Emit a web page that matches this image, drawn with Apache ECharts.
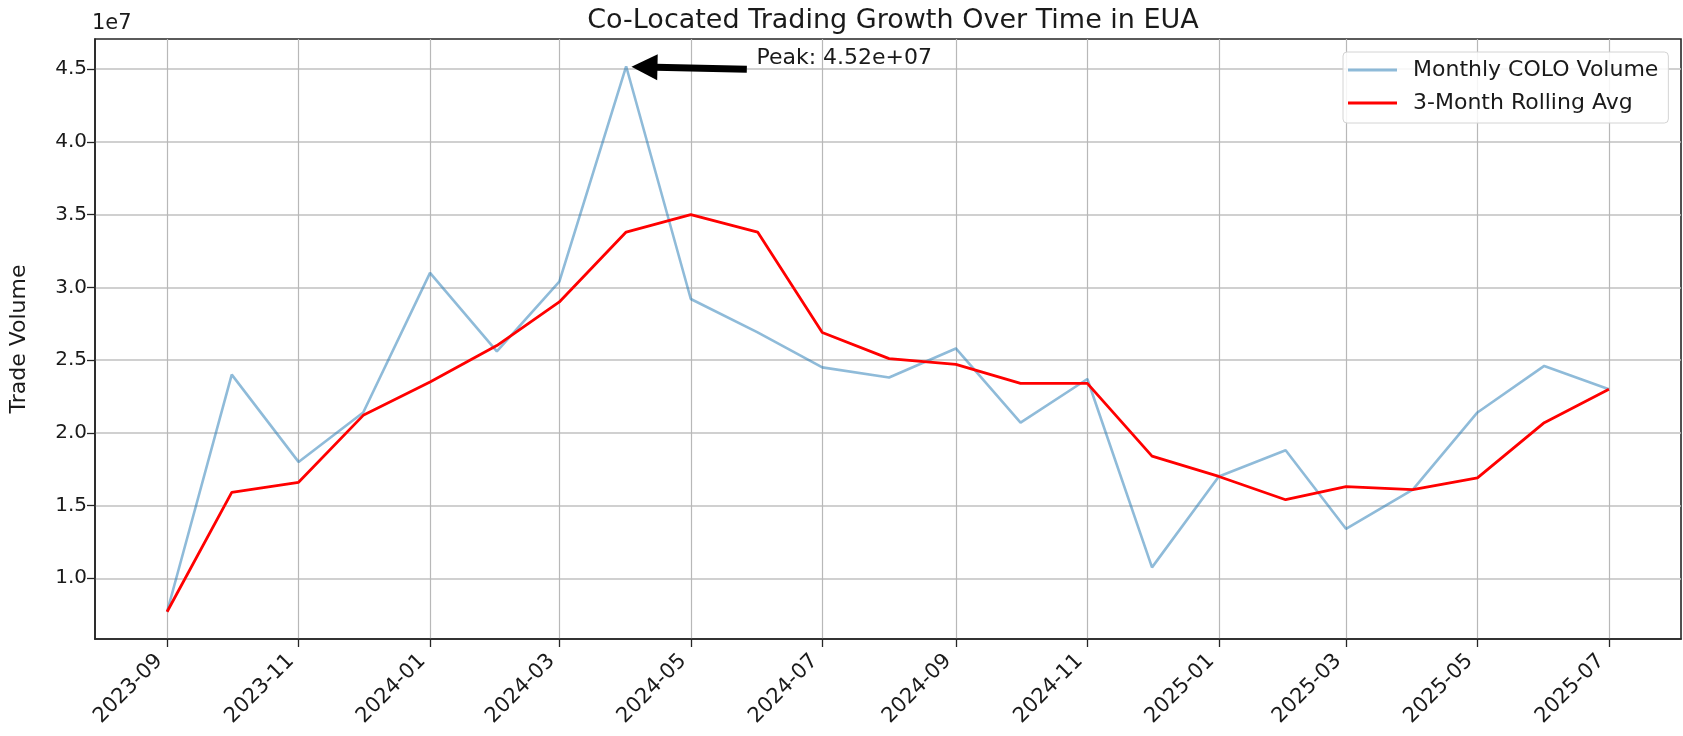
<!DOCTYPE html>
<html>
<head>
<meta charset="utf-8">
<title>Co-Located Trading Growth Over Time in EUA</title>
<script src="https://cdn.jsdelivr.net/npm/echarts@6/dist/echarts.min.js"></script>
<style>
  html, body { margin: 0; padding: 0; background: #fff; }
  #chart { width: 1683px; height: 736px; }
</style>
</head>
<body>
<div id="chart"></div>
<script>
// monthly data
const months = ['2023-09', '2023-10', '2023-11', '2023-12', '2024-01', '2024-02', '2024-03', '2024-04',
  '2024-05', '2024-06', '2024-07', '2024-08', '2024-09', '2024-10', '2024-11', '2024-12',
  '2025-01', '2025-02', '2025-03', '2025-04', '2025-05', '2025-06', '2025-07']
const coloVolume = [0.77e7, 2.40e7, 1.80e7, 2.14e7, 3.10e7, 2.56e7, 3.04e7, 4.52e7,
  2.92e7, 2.69e7, 2.45e7, 2.38e7, 2.58e7, 2.07e7, 2.37e7, 1.075e7,
  1.70e7, 1.88e7, 1.34e7, 1.61e7, 2.14e7, 2.46e7, 2.30e7]
const rollingAvg = [0.77e7, 1.59e7, 1.66e7, 2.12e7, 2.35e7, 2.60e7, 2.90e7, 3.38e7,
  3.50e7, 3.38e7, 2.69e7, 2.51e7, 2.47e7, 2.34e7, 2.34e7, 1.84e7,
  1.70e7, 1.54e7, 1.63e7, 1.61e7, 1.69e7, 2.07e7, 2.30e7]
const xTickMonths = ['2023-09', '2023-11', '2024-01', '2024-03', '2024-05', '2024-07', '2024-09',
  '2024-11', '2025-01', '2025-03', '2025-05', '2025-07']
const yTicks = [1.0e7, 1.5e7, 2.0e7, 2.5e7, 3.0e7, 3.5e7, 4.0e7, 4.5e7]

const DAY = 86400000
const FONT = 'DejaVu Sans'
const TXT = '#1a1a1a'

function monthTs(m) {
  const [y, mo] = m.split('-').map(Number)
  return Date.UTC(y, mo - 1, 1)
}
function fmtMonth(v) {
  const d = new Date(v)
  return d.getUTCFullYear() + '-' + String(d.getUTCMonth() + 1).padStart(2, '0')
}
function sciLabel(v) {
  const exp = Math.floor(Math.log10(v))
  const man = (v / Math.pow(10, exp)).toFixed(2)
  return man + 'e+' + String(exp).padStart(2, '0')
}

const xs = months.map(monthTs)
const span = xs[xs.length - 1] - xs[0]
const xMin = xs[0] - span * 0.05
const xMax = xs[xs.length - 1] + span * 0.05

const allVals = coloVolume.concat(rollingAvg)
const lo = Math.min(...allVals), hi = Math.max(...allVals)
const yMin = lo - (hi - lo) * 0.05
const yMax = hi + (hi - lo) * 0.05

// peak annotation
let peakIdx = 0
coloVolume.forEach((v, i) => { if (v > coloVolume[peakIdx]) peakIdx = i })
const peakTs = xs[peakIdx]
const peakVal = coloVolume[peakIdx]

const chart = echarts.init(document.getElementById('chart'))

chart.setOption({
  animation: false,
  backgroundColor: '#fff',
  textStyle: { fontFamily: FONT },
  title: {
    text: 'Co-Located Trading Growth Over Time in EUA',
    left: 888, top: 2, textAlign: 'center',
    textStyle: { fontFamily: FONT, fontSize: 27, fontWeight: 'normal', color: TXT }
  },
  legend: {
    orient: 'vertical',
    left: 1343, top: 52,
    padding: [6, 10, 8, 5],
    itemGap: 9,
    itemWidth: 49, itemHeight: 3,
    icon: 'rect',
    backgroundColor: 'rgba(255,255,255,0.85)',
    borderColor: '#d4d4d4', borderWidth: 1, borderRadius: 4,
    textStyle: { fontFamily: FONT, fontSize: 22, color: TXT, lineHeight: 24, padding: [0, 0, 0, 11] },
    data: ['Monthly COLO Volume', '3-Month Rolling Avg']
  },
  graphic: [{
    type: 'text', left: 92, top: 13,
    style: { text: '1e7', fontFamily: FONT, fontSize: 21, fill: TXT }
  }],
  grid: {
    left: 90, right: 2, top: 39, bottom: 97,
    show: true, borderColor: '#262626', borderWidth: 1.6
  },
  xAxis: {
    type: 'value', min: xMin, max: xMax,
    axisLine: { show: true, lineStyle: { color: '#262626', width: 1.6 } },
    axisTick: { show: true, length: 8, lineStyle: { color: '#262626', width: 1.3 }, customValues: xTickMonths.map(monthTs) },
    axisLabel: {
      customValues: xTickMonths.map(monthTs),
      formatter: fmtMonth, rotate: 45, margin: 11, padding: [0, 11, 0, 0],
      fontFamily: FONT, fontSize: 21, color: TXT, hideOverlap: false
    },
    splitLine: { show: true, lineStyle: { color: '#b8b8b8', width: 1.2 } }
  },
  yAxis: {
    type: 'value', min: yMin, max: yMax,
    name: 'Trade Volume', nameLocation: 'middle', nameGap: 65,
    nameTextStyle: { fontFamily: FONT, fontSize: 22, color: TXT },
    axisLine: { show: true, lineStyle: { color: '#262626', width: 1.6 } },
    axisTick: { show: true, length: 8, lineStyle: { color: '#262626', width: 1.3 }, customValues: yTicks },
    axisLabel: {
      customValues: yTicks,
      formatter: v => (v / 1e7).toFixed(1), margin: 8,
      fontFamily: FONT, fontSize: 20, color: TXT
    },
    splitLine: { show: true, lineStyle: { color: '#c0c0c0', width: 1.5 } }
  },
  series: [
    {
      name: 'Monthly COLO Volume', type: 'line',
      data: xs.map((t, i) => [t, coloVolume[i]]),
      showSymbol: false, symbol: 'none',
      color: 'rgba(31,119,180,0.5)',
      lineStyle: { color: 'rgba(31,119,180,0.5)', width: 2.6 },
      z: 3,
      markLine: {
        silent: true, animation: false,
        symbol: ['none', 'triangle'], symbolSize: [26, 26],
        label: { show: false },
        lineStyle: { color: '#000', width: 7, type: 'solid', opacity: 1 },
        data: [[
          { coord: [peakTs + 56 * DAY, peakVal - 0.02e7] },
          { coord: [peakTs + 8.5 * DAY, peakVal - 0.005e7] }
        ]]
      },
      markPoint: {
        silent: true, animation: false,
        symbol: 'circle', symbolSize: 0,
        data: [{
          coord: [peakTs + 60 * DAY, peakVal],
          label: {
            show: true, position: 'right', distance: 1, offset: [0, -8],
            formatter: 'Peak: ' + sciLabel(peakVal),
            fontFamily: FONT, fontSize: 22, color: TXT
          }
        }]
      }
    },
    {
      name: '3-Month Rolling Avg', type: 'line',
      data: xs.map((t, i) => [t, rollingAvg[i]]),
      showSymbol: false, symbol: 'none',
      color: '#ff0000',
      lineStyle: { color: '#ff0000', width: 2.8 },
      z: 4
    }
  ]
})
</script>
</body>
</html>
